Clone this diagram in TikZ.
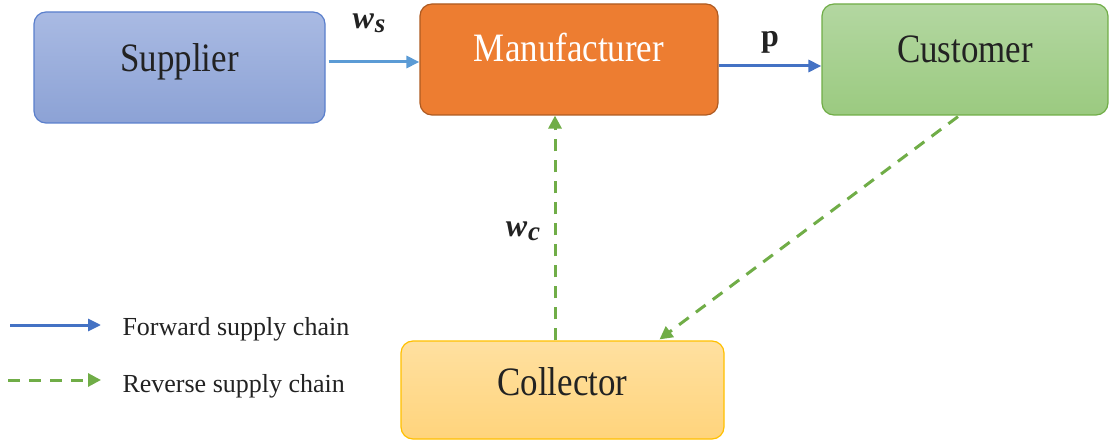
\documentclass[tikz,border=0pt]{standalone}
\usepackage{fontspec}
\setmainfont{Liberation Serif}
\usetikzlibrary{arrows.meta,calc}
\definecolor{supTop}{HTML}{A9BAE3}
\definecolor{supBot}{HTML}{8CA2D5}
\definecolor{supLine}{HTML}{5A7FCC}
\definecolor{manFill}{HTML}{ED7D31}
\definecolor{manLine}{HTML}{AE5A21}
\definecolor{cusTop}{HTML}{B3D7A1}
\definecolor{cusBot}{HTML}{9BCA80}
\definecolor{cusLine}{HTML}{70AD47}
\definecolor{colTop}{HTML}{FFE0A0}
\definecolor{colBot}{HTML}{FFD47C}
\definecolor{colLine}{HTML}{FFC000}
\definecolor{lightBlue}{HTML}{5B9BD5}
\definecolor{darkBlue}{HTML}{4472C4}
\definecolor{revGreen}{HTML}{70AD47}
\definecolor{txt}{HTML}{222222}
\newcommand{\tallbox}[1]{\scalebox{0.97}[1.12]{#1}}
\tikzset{
  box/.style={rounded corners=12pt, line width=1.2pt, inner sep=0pt, text depth=0pt,
    font=\fontsize{36}{40}\selectfont, text=txt},
  fwd/.style={line width=3pt, -{Triangle[length=13pt,width=12pt]}},
  rev/.style={line width=3pt, revGreen, dash pattern=on 12pt off 9pt, -{Triangle[length=13pt,width=13pt]}},
  lab/.style={font=\fontsize{32}{36}\selectfont\bfseries, text=txt},
  legtext/.style={font=\fontsize{26}{29}\selectfont, text=txt, anchor=base west}
}
\begin{document}
\begin{tikzpicture}[x=1pt,y=-1pt]
\useasboundingbox (0,0) rectangle (1109,441);
% boxes (text height = twice the drop of the baseline below the centre)
\node[box, draw=supLine, top color=supTop, bottom color=supBot,
      minimum width=291pt, minimum height=111pt, text height=9pt] (sup) at (179.5,67.5) {\tallbox{Supplier}};
\node[box, draw=manLine, fill=manFill, text=white,
      minimum width=298pt, minimum height=111pt, text height=5pt] (man) at (569,59.5) {\tallbox{Manufacturer}};
\node[box, draw=cusLine, top color=cusTop, bottom color=cusBot,
      minimum width=286pt, minimum height=111pt, text height=7pt] (cus) at (965,59.5) {\tallbox{Customer}};
\node[box, draw=colLine, top color=colTop, bottom color=colBot,
      minimum width=323pt, minimum height=98pt, text height=10pt] (col) at (562.5,390) {\tallbox{Collector}};
% forward arrows
\coordinate (s1) at ($(sup.east)+(3,-5.5)$);
\draw[fwd, lightBlue] (s1) -- (s1 -| man.west);
\coordinate (m1) at ($(man.east)+(0,6.5)$);
\draw[fwd, darkBlue] (m1) -- (m1 -| cus.west);
% reverse arrows
\draw[rev] ($(cus.south)+(-7,1)$) -- ($(col.north)+(97,-1)$);
\draw[rev] ($(col.north)+(-7.5,0)$) -- ($(man.south)+(-14,0)$);
% labels
\node[lab] (ws) at (369,23) {\textit{w}\kern1pt\raisebox{-0.3ex}{\fontsize{27}{29}\selectfont\textit{s}}};
\node[lab] (pl) at (770,42) {p};
\node[lab] (wc) at (523,231) {\textit{w}\kern1pt\raisebox{-0.3ex}{\fontsize{27}{29}\selectfont\textit{c}}};
% legend
\coordinate (lf1) at (10,325);
\coordinate (lf2) at (101,325);
\coordinate (lr1) at (8,380);
\coordinate (lr2) at (101,380);
\draw[fwd, darkBlue] (lf1) -- (lf2);
\draw[rev] (lr1) -- (lr2);
\node[legtext] (lgf) at (119,335) {Forward supply chain};
\node[legtext] (lgr) at (119,392) {Reverse supply chain};
\end{tikzpicture}
\end{document}
